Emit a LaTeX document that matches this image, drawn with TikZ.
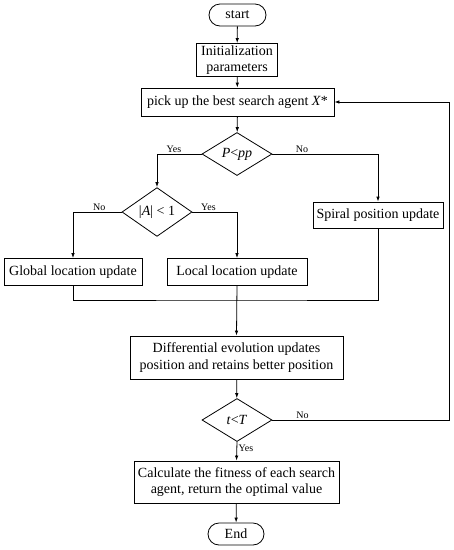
\documentclass[tikz,border=0pt]{standalone}
\usepackage{fontspec}
\setmainfont{Liberation Serif}
\usetikzlibrary{shapes.geometric,arrows.meta}
\tikzset{
    box/.style={draw, line width=0.8pt, rectangle, align=center, inner sep=1pt, font=\fontsize{14}{16.5}\selectfont},
    term/.style={box, rounded corners=11pt},
    decide/.style={draw, line width=0.8pt, diamond, inner sep=0pt, minimum width=70pt, minimum height=43pt, font=\fontsize{14}{16.5}\selectfont},
    lbl/.style={font=\fontsize{10}{11}\selectfont, inner sep=1.5pt},
    arr/.style={line width=0.8pt, -{Latex[length=5pt,width=3.5pt]}},
    line/.style={line width=0.8pt}
}
\begin{document}
\begin{tikzpicture}[x=1pt, y=-1pt]
    \useasboundingbox (0,0) rectangle (454,550);
    % Start and set up
    \node[term, minimum width=57pt, minimum height=22pt] (start) at (237.5,15) {start};
    \node[box, minimum width=81pt, minimum height=33pt] (init) at (237,60) {Initialization\\parameters};
    \node[box, minimum width=193pt, minimum height=28pt] (pick) at (237.5,102) {pick up the best search agent \textit{X}*};
    % First decision
    \node[decide] (pp) at (237,154) {\textit{P}<\textit{pp}};
    \node[decide] (absA) at (157,212) {|\textit{A}| < 1};
    % Update boxes
    \node[box, minimum width=130pt, minimum height=26pt] (spiral) at (378,215) {Spiral position update};
    \node[box, minimum width=138pt, minimum height=27pt] (global) at (73,272) {Global location update};
    \node[box, minimum width=140pt, minimum height=27pt] (local) at (237,272) {Local location update};
    % Differential evolution and end test
    \node[box, minimum width=213pt, minimum height=43pt] (de) at (236.5,357.5) {Differential evolution updates\\position and retains better position};
    \node[decide] (tT) at (237,420) {\textit{t}<\textit{T}};
    \node[box, minimum width=205pt, minimum height=42pt] (calc) at (236.5,482) {Calculate the fitness of each search\\agent, return the optimal value};
    \node[term, minimum width=56pt, minimum height=22pt] (end) at (236,534) {End};
    % Helper points
    \coordinate (join) at (237,300);
    \coordinate (fb) at (449,420);
    % Connectors
    \draw[arr] (start) -- (init);
    \draw[arr] (init) -- (pick);
    \draw[arr] (pick) -- (pp);
    \draw[arr] (pp.west) -| (absA.north) node[lbl, pos=0.31, above] {Yes};
    \draw[arr] (pp.east) -| (spiral.north) node[lbl, pos=0.14, above] {No};
    \draw[arr] (absA.west) -| (global.north) node[lbl, pos=0.23, above] {No};
    \draw[arr] (absA.east) -| (local.north) node[lbl, pos=0.18, above] {Yes};
    \draw[line] (global.south) |- (join) -| (spiral.south);
    \draw[arr] (local.south) -- (de.north);
    \draw[arr] (de) -- (tT);
    \draw[arr] (tT.east) -- (fb) node[lbl, pos=0.17, above] {No} |- (pick.east);
    \draw[arr] (tT.south) -- (calc.north) node[lbl, pos=0.35, right] {Yes};
    \draw[arr] (calc) -- (end);
\end{tikzpicture}
\end{document}
